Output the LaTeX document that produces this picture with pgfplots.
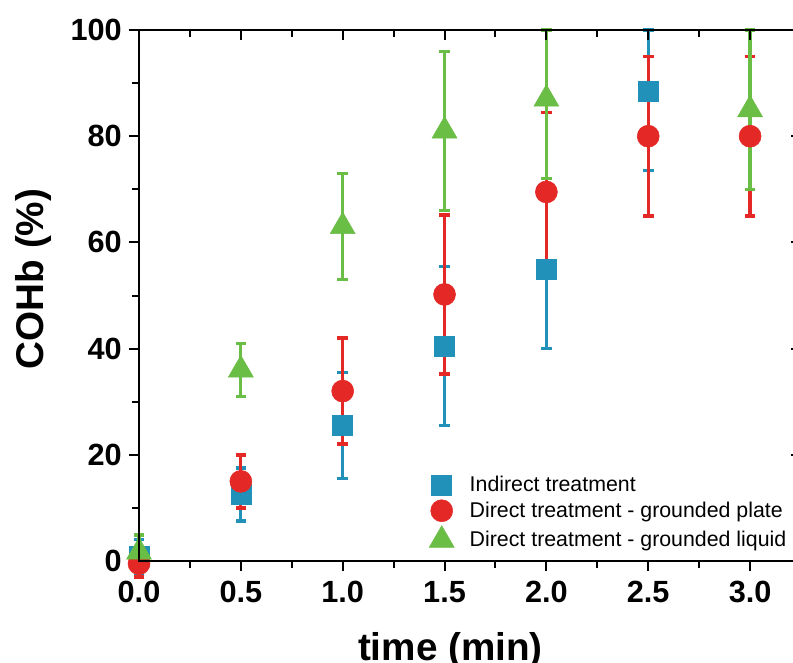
\documentclass[border=0pt]{standalone}
\usepackage{fontspec}
\setmainfont{Liberation Sans}
\usepackage{pgfplots}
\pgfplotsset{compat=1.18}
\definecolor{cblue}{RGB}{33,145,186}
\definecolor{cred}{RGB}{228,40,38}
\definecolor{cgreen}{RGB}{106,189,69}
\begin{document}
\begin{tikzpicture}
\pgfplotsset{
  common/.style={
    scale only axis, width=496.5pt, height=398.25pt,
    xmin=0, xmax=3.25, ymin=0, ymax=100,
    clip=false,
    axis line style={line width=1.5pt},
    xtick={0,0.5,...,3.0}, minor x tick num=1,
    ytick={0,20,...,100}, minor y tick num=1,
    major tick length=7.5pt, minor tick length=5pt,
    every tick/.style={black, line width=1.5pt},
  },
  errb/.style={forget plot, mark=none, draw=none,
    error bars/.cd, y dir=both, y explicit,
    error bar style={draw=#1, line width=2.4pt},
    error mark options={draw=#1, line width=2.6pt, mark size=4pt, rotate=90}},
  limg/.style={legend image code/.code={\draw[##1] plot coordinates {(0pt,0pt)}; \path[draw=none,fill=none] (-9pt,-8pt) rectangle (21pt,8pt);}}
}
\begin{axis}[common,
  xtick pos=bottom, ytick pos=left, tick align=outside,
  ticklabel style={font=\fontsize{23}{23}\selectfont\bfseries, inner sep=0pt},
  /pgf/number format/assume math mode=true,
  xticklabel style={yshift=-7.5pt, /pgf/number format/fixed, /pgf/number format/fixed zerofill, /pgf/number format/precision=1},
  yticklabel style={xshift=-5.25pt},
  xlabel={time (min)}, ylabel={COHb (\%)},
  every axis x label/.style={at={(axis description cs:0.4705,-0.1865)}, anchor=base, font=\fontsize{29}{29}\selectfont\bfseries},
  every axis y label/.style={at={(axis description cs:-0.145,0.531)}, rotate=90, anchor=base, font=\fontsize{29}{29}\selectfont\bfseries},
  legend style={at={(0.432,0.1686)}, anchor=north west, draw=none, fill=none,
    font=\fontsize{16}{16}\selectfont, row sep=3pt, nodes={inner sep=0pt}, cells={anchor=west}},
]
% markers
\addplot[only marks, mark=square*, mark size=7.5pt, color=cblue, limg]
  coordinates {(0,0.8) (0.5,12.5) (1.0,25.5) (1.5,40.5) (2.0,55) (2.5,88.5)};
\addlegendentry{Indirect treatment}
\addplot[only marks, mark=*, mark size=8.25pt, color=cred, limg]
  coordinates {(0,-0.5) (0.5,15) (1.0,32) (1.5,50.2) (2.0,69.5) (2.5,80) (3.0,80)};
\addlegendentry{Direct treatment - grounded plate}
\addplot[only marks, mark=triangle*, mark size=10.8pt, color=cgreen, limg]
  coordinates {(0,1.7) (0.5,36) (1.0,63) (1.5,81) (2.0,87) (3.0,85)};
\addlegendentry{Direct treatment - grounded liquid}
% error bars
\addplot[errb=cblue] coordinates {
  (0,0.8) +- (0,3.3)
  (0.5,12.5) +- (0,5)
  (1.0,25.5) +- (0,10)
  (1.5,40.5) +- (0,15)
  (2.0,55) +- (0,15)
  (2.5,88.5) += (0,11.5) -= (0,15)
};
\addplot[errb=cred] coordinates {
  (0,-0.5) +- (0,2.5)
  (0.5,15) +- (0,5)
  (1.0,32) +- (0,10)
  (1.5,50.2) +- (0,15)
  (2.0,69.5) +- (0,15)
  (2.5,80) +- (0,15)
  (3.0,80) +- (0,15)
};
\addplot[errb=cgreen] coordinates {
  (0,1.7) +- (0,3.2)
  (0.5,36) +- (0,5)
  (1.0,63) +- (0,10)
  (1.5,81) +- (0,15)
  (2.0,87) += (0,13) -= (0,15)
  (3.0,85) +- (0,15)
};
\end{axis}
\begin{axis}[common,
  xtick pos=top, ytick pos=right, tick align=inside,
  xticklabels={}, yticklabels={},
]
\end{axis}
\pgfresetboundingbox
\path[use as bounding box] (-104.25pt,-75.75pt) rectangle (490.5pt,420.75pt);
\end{tikzpicture}
\end{document}
